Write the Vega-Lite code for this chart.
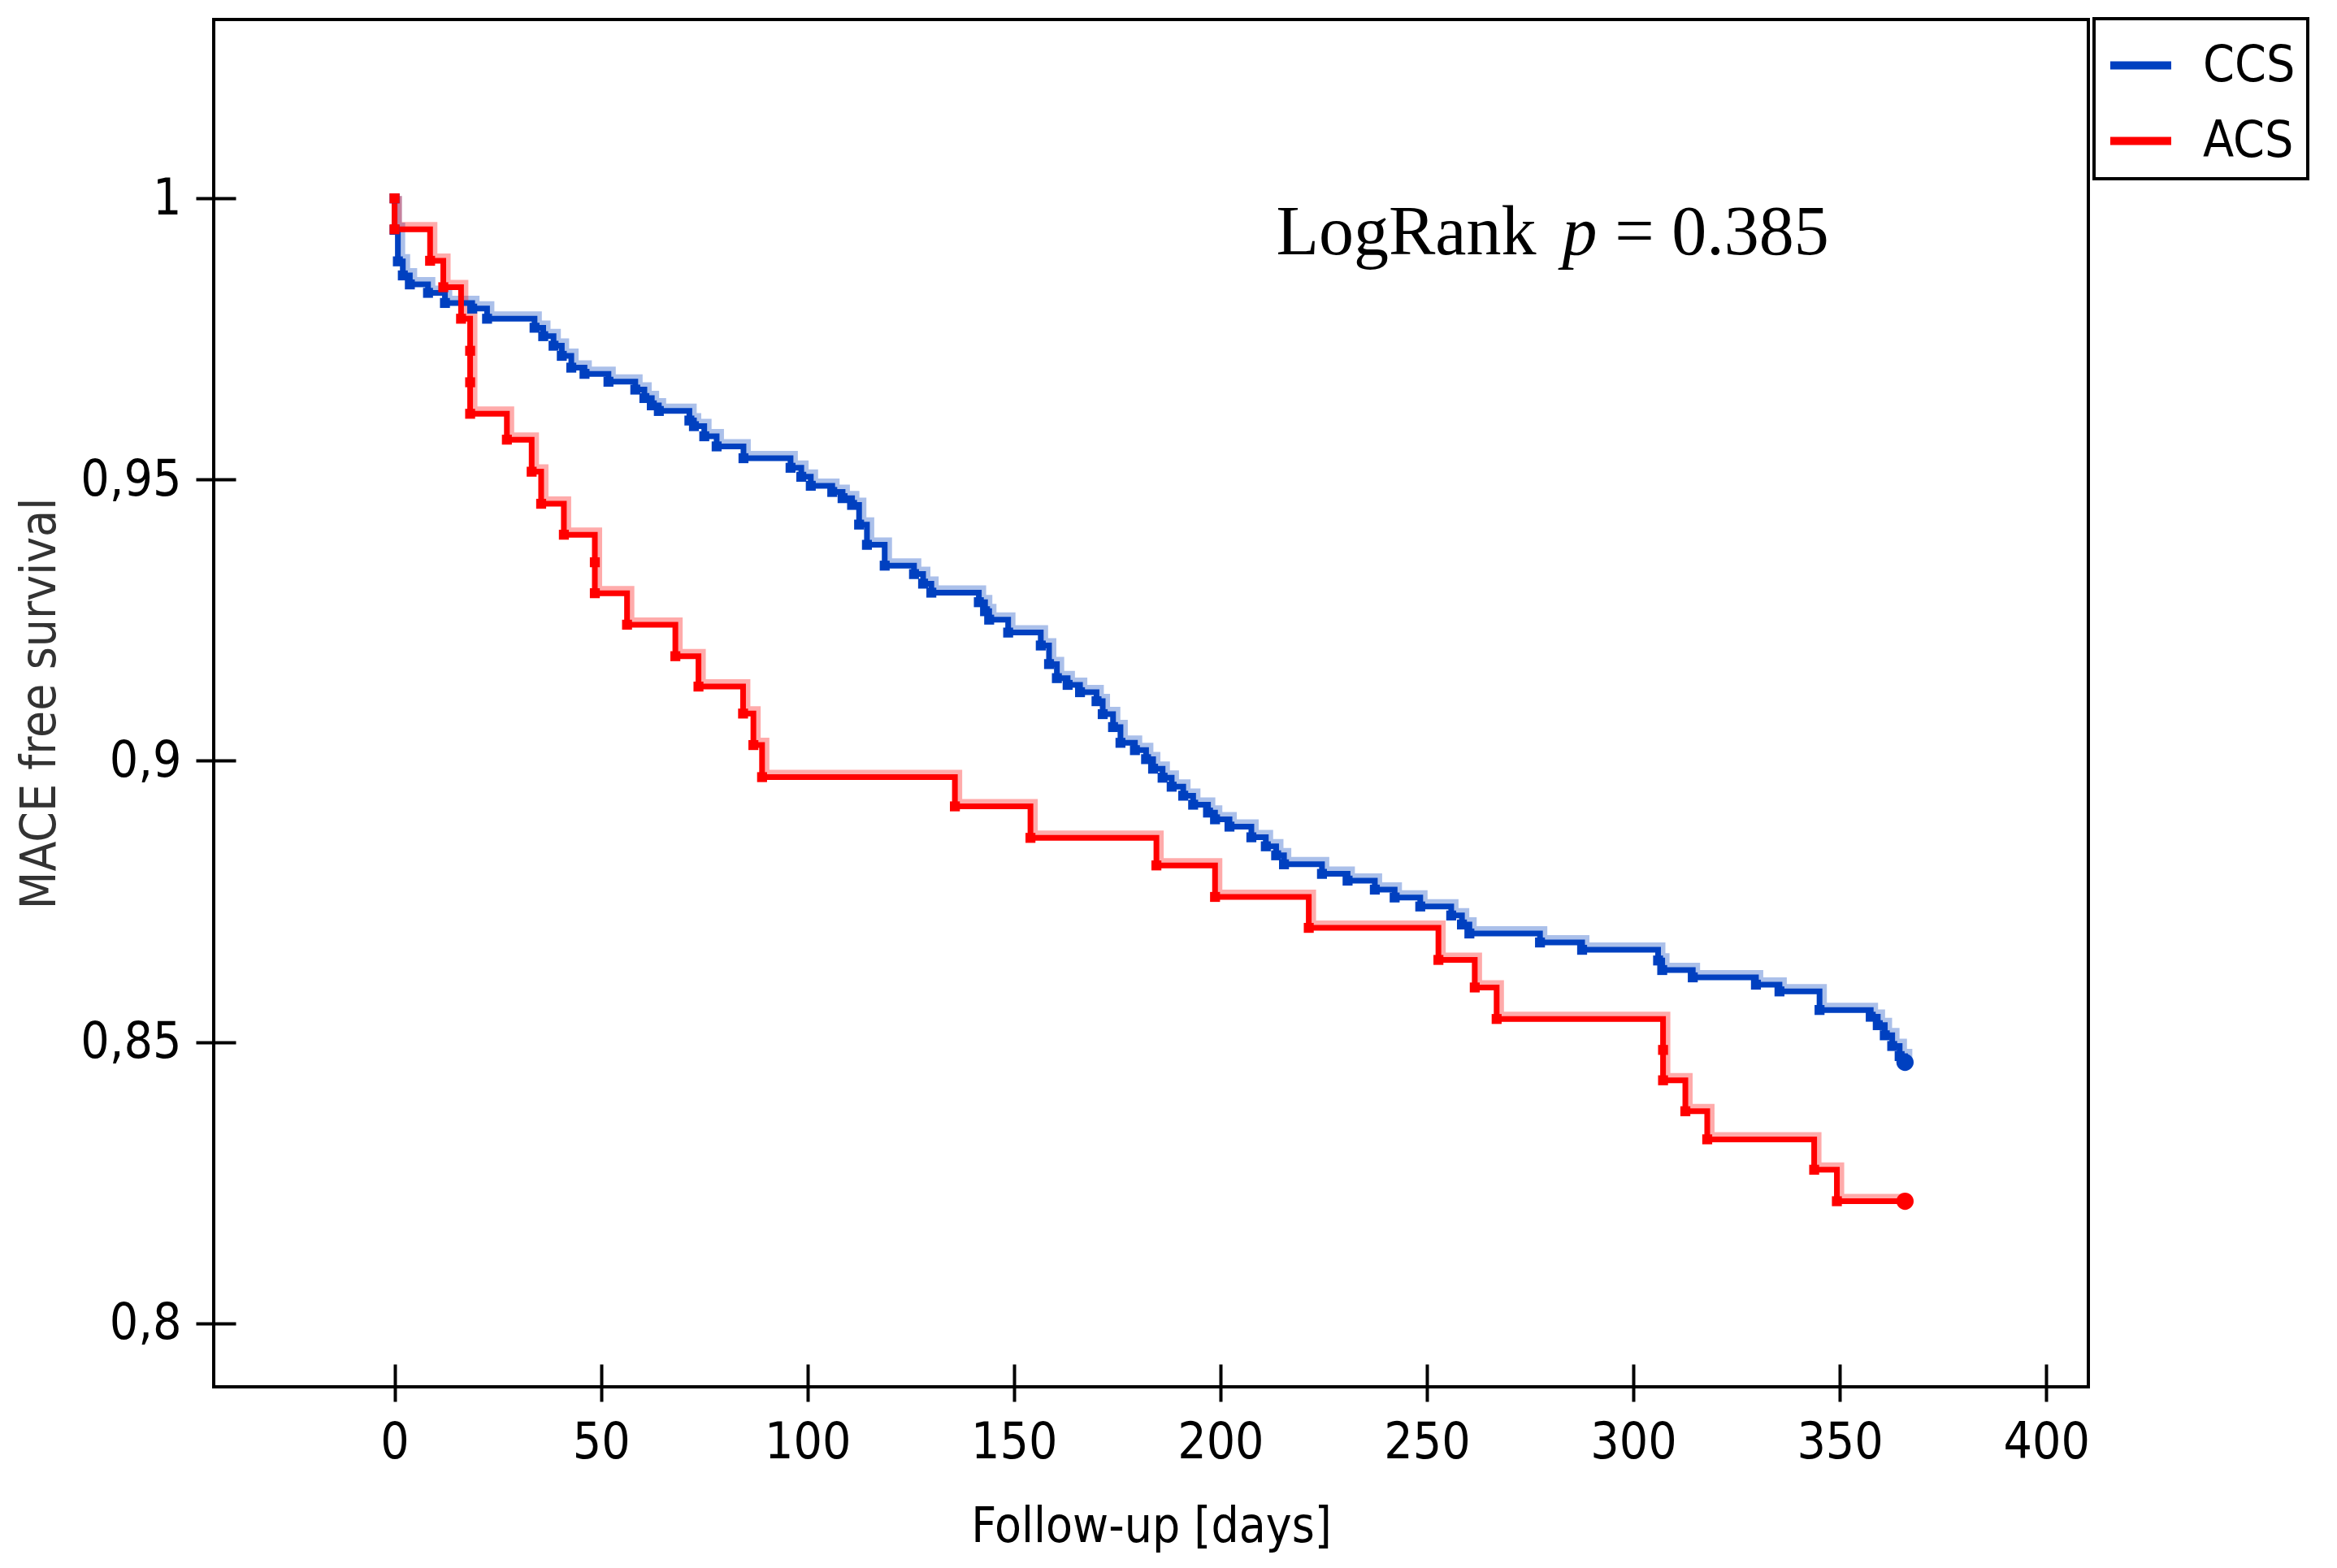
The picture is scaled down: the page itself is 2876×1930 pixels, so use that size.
{
  "$schema": "https://vega.github.io/schema/vega-lite/v6.json",
  "width": 2307,
  "height": 1683,
  "autosize": "none",
  "padding": {"left": 263, "top": 24, "right": 306, "bottom": 223},
  "background": "white",
  "config": {
    "view": {"stroke": "black", "strokeWidth": 4},
    "font": "DejaVu Sans Condensed, Liberation Sans, sans-serif",
    "axis": {
      "domain": false,
      "grid": false,
      "tickColor": "black",
      "tickWidth": 4,
      "labelFontSize": 62,
      "labelColor": "black",
      "titleFontSize": 60,
      "titleFontWeight": "normal"
    },
    "legend": {"strokeWidth": 4}
  },
  "datasets": {
    "km": [
      {"g": "CCS", "day": 0, "s": 1.0},
      {"g": "CCS", "day": 0, "s": 0.9944},
      {"g": "CCS", "day": 0.8, "s": 0.9888},
      {"g": "CCS", "day": 2, "s": 0.9863},
      {"g": "CCS", "day": 3.7, "s": 0.9847},
      {"g": "CCS", "day": 8.1, "s": 0.9832},
      {"g": "CCS", "day": 12.2, "s": 0.9814},
      {"g": "CCS", "day": 18.8, "s": 0.9804},
      {"g": "CCS", "day": 22.4, "s": 0.9786},
      {"g": "CCS", "day": 33.9, "s": 0.977},
      {"g": "CCS", "day": 36, "s": 0.9755},
      {"g": "CCS", "day": 38.5, "s": 0.9738},
      {"g": "CCS", "day": 40.5, "s": 0.972},
      {"g": "CCS", "day": 42.8, "s": 0.9699},
      {"g": "CCS", "day": 46, "s": 0.9688},
      {"g": "CCS", "day": 51.8, "s": 0.9674},
      {"g": "CCS", "day": 58.3, "s": 0.966},
      {"g": "CCS", "day": 60.5, "s": 0.9645},
      {"g": "CCS", "day": 62.3, "s": 0.9632},
      {"g": "CCS", "day": 64, "s": 0.9622},
      {"g": "CCS", "day": 71.4, "s": 0.9605},
      {"g": "CCS", "day": 72.5, "s": 0.9595},
      {"g": "CCS", "day": 75, "s": 0.9577},
      {"g": "CCS", "day": 78, "s": 0.9559},
      {"g": "CCS", "day": 84.5, "s": 0.9538},
      {"g": "CCS", "day": 95.9, "s": 0.9521},
      {"g": "CCS", "day": 98.5, "s": 0.9505},
      {"g": "CCS", "day": 100.8, "s": 0.9489},
      {"g": "CCS", "day": 106, "s": 0.9478},
      {"g": "CCS", "day": 108.5, "s": 0.9467},
      {"g": "CCS", "day": 110.8, "s": 0.9455},
      {"g": "CCS", "day": 112.5, "s": 0.942},
      {"g": "CCS", "day": 114.4, "s": 0.9384},
      {"g": "CCS", "day": 118.7, "s": 0.9347},
      {"g": "CCS", "day": 125.8, "s": 0.9332},
      {"g": "CCS", "day": 128, "s": 0.9315},
      {"g": "CCS", "day": 130, "s": 0.9299},
      {"g": "CCS", "day": 141.5, "s": 0.9282},
      {"g": "CCS", "day": 143, "s": 0.9266},
      {"g": "CCS", "day": 144, "s": 0.9251},
      {"g": "CCS", "day": 148.6, "s": 0.9228},
      {"g": "CCS", "day": 156.5, "s": 0.9205},
      {"g": "CCS", "day": 158.5, "s": 0.9172},
      {"g": "CCS", "day": 160.4, "s": 0.9147},
      {"g": "CCS", "day": 163, "s": 0.9135},
      {"g": "CCS", "day": 166, "s": 0.9122},
      {"g": "CCS", "day": 170, "s": 0.9106},
      {"g": "CCS", "day": 171.5, "s": 0.9083},
      {"g": "CCS", "day": 174, "s": 0.906},
      {"g": "CCS", "day": 175.8, "s": 0.9032},
      {"g": "CCS", "day": 179.3, "s": 0.9019},
      {"g": "CCS", "day": 182, "s": 0.9003},
      {"g": "CCS", "day": 183.7, "s": 0.8986},
      {"g": "CCS", "day": 186, "s": 0.897},
      {"g": "CCS", "day": 188.2, "s": 0.8954},
      {"g": "CCS", "day": 191, "s": 0.8938},
      {"g": "CCS", "day": 193.4, "s": 0.8922},
      {"g": "CCS", "day": 197, "s": 0.8908},
      {"g": "CCS", "day": 198.7, "s": 0.8896},
      {"g": "CCS", "day": 202.2, "s": 0.8883},
      {"g": "CCS", "day": 207.5, "s": 0.8864},
      {"g": "CCS", "day": 211, "s": 0.8848},
      {"g": "CCS", "day": 213.5, "s": 0.8832},
      {"g": "CCS", "day": 215.4, "s": 0.8816},
      {"g": "CCS", "day": 224.6, "s": 0.8799},
      {"g": "CCS", "day": 230.8, "s": 0.8787},
      {"g": "CCS", "day": 237.4, "s": 0.8771},
      {"g": "CCS", "day": 242.2, "s": 0.8757},
      {"g": "CCS", "day": 248.4, "s": 0.8741},
      {"g": "CCS", "day": 255.9, "s": 0.8725},
      {"g": "CCS", "day": 258.5, "s": 0.8709},
      {"g": "CCS", "day": 260.3, "s": 0.8693},
      {"g": "CCS", "day": 277.4, "s": 0.8677},
      {"g": "CCS", "day": 287.6, "s": 0.8664},
      {"g": "CCS", "day": 306, "s": 0.8645},
      {"g": "CCS", "day": 307, "s": 0.8628},
      {"g": "CCS", "day": 314.4, "s": 0.8615},
      {"g": "CCS", "day": 329.7, "s": 0.8602},
      {"g": "CCS", "day": 335.4, "s": 0.859},
      {"g": "CCS", "day": 345.1, "s": 0.8557},
      {"g": "CCS", "day": 357.5, "s": 0.8545},
      {"g": "CCS", "day": 359.2, "s": 0.853},
      {"g": "CCS", "day": 360.9, "s": 0.8512},
      {"g": "CCS", "day": 362.7, "s": 0.8493},
      {"g": "CCS", "day": 364.5, "s": 0.8475},
      {"g": "CCS", "day": 365.8, "s": 0.8464},
      {"g": "ACS", "day": 0, "s": 1.0},
      {"g": "ACS", "day": 0, "s": 0.9945},
      {"g": "ACS", "day": 8.6, "s": 0.9889},
      {"g": "ACS", "day": 11.8, "s": 0.9842},
      {"g": "ACS", "day": 16.1, "s": 0.9786},
      {"g": "ACS", "day": 18.3, "s": 0.9729},
      {"g": "ACS", "day": 18.3, "s": 0.9673},
      {"g": "ACS", "day": 18.3, "s": 0.9617},
      {"g": "ACS", "day": 27.2, "s": 0.9571},
      {"g": "ACS", "day": 33.2, "s": 0.9514},
      {"g": "ACS", "day": 35.5, "s": 0.9457},
      {"g": "ACS", "day": 41, "s": 0.9402},
      {"g": "ACS", "day": 48.5, "s": 0.9353},
      {"g": "ACS", "day": 48.5, "s": 0.9298},
      {"g": "ACS", "day": 56.3, "s": 0.9242},
      {"g": "ACS", "day": 68, "s": 0.9186},
      {"g": "ACS", "day": 73.6, "s": 0.9132},
      {"g": "ACS", "day": 84.4, "s": 0.9084},
      {"g": "ACS", "day": 86.9, "s": 0.9028},
      {"g": "ACS", "day": 89, "s": 0.8971},
      {"g": "ACS", "day": 135.7, "s": 0.8919},
      {"g": "ACS", "day": 154, "s": 0.8863},
      {"g": "ACS", "day": 184.5, "s": 0.8814},
      {"g": "ACS", "day": 198.7, "s": 0.8758},
      {"g": "ACS", "day": 221.4, "s": 0.8703},
      {"g": "ACS", "day": 252.8, "s": 0.8646},
      {"g": "ACS", "day": 261.6, "s": 0.8597},
      {"g": "ACS", "day": 266.9, "s": 0.8541},
      {"g": "ACS", "day": 307.2, "s": 0.8486},
      {"g": "ACS", "day": 307.2, "s": 0.8432},
      {"g": "ACS", "day": 312.6, "s": 0.8377},
      {"g": "ACS", "day": 317.9, "s": 0.8327},
      {"g": "ACS", "day": 343.8, "s": 0.8273},
      {"g": "ACS", "day": 349.3, "s": 0.8217},
      {"g": "ACS", "day": 365.8, "s": 0.8217}
    ],
    "note": [
      {"day": 213.5, "s": 0.99, "t": "LogRank", "it": 0},
      {"day": 282.8, "s": 0.99, "t": "p", "it": 1},
      {"day": 295.5, "s": 0.99, "t": "= 0.385", "it": 0}
    ]
  },
  "encoding": {
    "x": {
      "field": "day",
      "type": "quantitative",
      "scale": {"domain": [-43.8, 410.2], "nice": false, "zero": false},
      "axis": {
        "title": "Follow-up [days]",
        "values": [0, 50, 100, 150, 200, 250, 300, 350, 400],
        "offset": -28,
        "tickSize": 46,
        "labelPadding": 20,
        "titleY": 218,
        "titleBaseline": "alphabetic",
        "titleColor": "black"
      }
    },
    "y": {
      "field": "s",
      "type": "quantitative",
      "scale": {"domain": [0.7887, 1.0318], "nice": false, "zero": false},
      "axis": {
        "title": "MACE free survival",
        "values": [0.8, 0.85, 0.9, 0.95, 1],
        "format": "~g",
        "labelExpr": "replace(datum.label, '.', ',')",
        "offset": -27,
        "tickSize": 49,
        "labelPadding": 18,
        "titleX": -223,
        "titleBaseline": "alphabetic",
        "titleColor": "#333333"
      }
    },
    "color": {
      "field": "g",
      "type": "nominal",
      "scale": {"domain": ["CCS", "ACS"], "range": ["#0040c0", "#ff0000"]},
      "legend": {
        "title": null,
        "orient": "none",
        "legendX": 2314,
        "legendY": -1,
        "symbolType": "stroke",
        "symbolStrokeWidth": 10,
        "symbolSize": 5625,
        "symbolOpacity": 1,
        "labelFontSize": 62,
        "labelColor": "black",
        "labelOffset": 34,
        "padding": 15,
        "rowPadding": 19,
        "strokeColor": "black",
        "fillColor": "white"
      }
    }
  },
  "layer": [
    {
      "data": {"name": "km"},
      "mark": {"type": "line", "interpolate": "step-after", "strokeWidth": 12, "opacity": 0.33, "xOffset": 3, "yOffset": -3},
      "encoding": {
        "order": [{"field": "day", "type": "quantitative"}, {"field": "s", "type": "quantitative", "sort": "descending"}]
      }
    },
    {
      "data": {"name": "km"},
      "mark": {"type": "line", "interpolate": "step-after", "strokeWidth": 7},
      "encoding": {
        "order": [{"field": "day", "type": "quantitative"}, {"field": "s", "type": "quantitative", "sort": "descending"}]
      }
    },
    {
      "data": {"name": "km"},
      "mark": {"type": "point", "shape": "square", "filled": true, "size": 150, "opacity": 1}
    },
    {
      "data": {"name": "km"},
      "transform": [{"filter": "datum.day > 365"}],
      "mark": {"type": "circle", "size": 450, "opacity": 1}
    },
    {
      "data": {"name": "note"},
      "transform": [{"filter": "datum.it == 0"}],
      "mark": {"type": "text", "font": "Liberation Serif", "fontSize": 86, "align": "left", "baseline": "alphabetic"},
      "encoding": {"text": {"field": "t"}, "color": {"value": "black"}}
    },
    {
      "data": {"name": "note"},
      "transform": [{"filter": "datum.it == 1"}],
      "mark": {"type": "text", "font": "Liberation Serif", "fontSize": 86, "fontStyle": "italic", "align": "left", "baseline": "alphabetic"},
      "encoding": {"text": {"field": "t"}, "color": {"value": "black"}}
    }
  ]
}
